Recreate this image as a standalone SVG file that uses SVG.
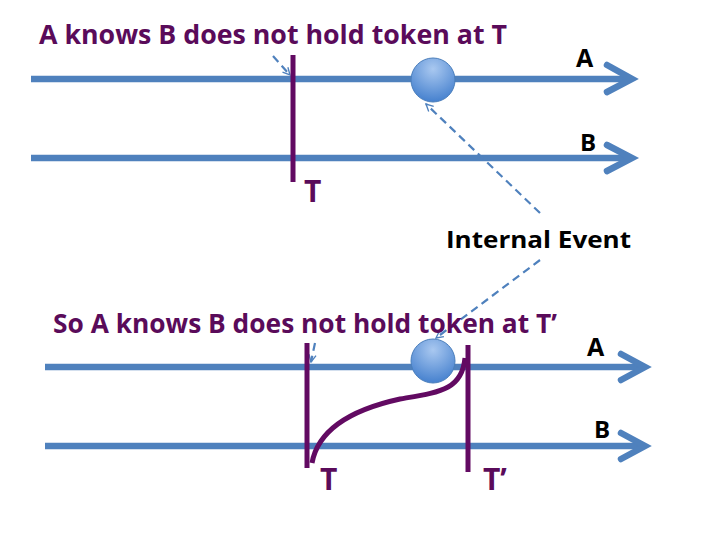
<svg xmlns="http://www.w3.org/2000/svg" width="720" height="540" viewBox="0 0 720 540">
<style>
.tl{fill:none;stroke:#4f81bd;stroke-width:6.5;stroke-linecap:butt}
.ah{fill:none;stroke:#4f81bd;stroke-width:6.5;stroke-linecap:round;stroke-linejoin:miter}
.pv{stroke:#620a62;stroke-width:5;fill:none}
.ds{fill:none;stroke:#4f81bd;stroke-width:2.2;stroke-dasharray:8,5}
.title{font-family:"Open Sans","Liberation Sans",sans-serif;font-weight:bold;fill:#5a0b5a;font-size:27px}
.lbl{font-family:"Open Sans","Liberation Sans",sans-serif;font-weight:bold;fill:#000}
.tt{font-family:"Open Sans","Liberation Sans",sans-serif;font-weight:bold;fill:#5a0b5a;font-size:30px}
</style>
<defs>
<radialGradient id="ball" cx="50%" cy="25%" r="80%">
<stop offset="0" stop-color="#a9c8f0"/>
<stop offset="1" stop-color="#3f7ccc"/>
</radialGradient>
<marker id="dh2" viewBox="0 0 10 10" refX="9" refY="5" markerWidth="9" markerHeight="9" orient="auto" markerUnits="userSpaceOnUse">
<path d="M1,1 L9,5 L1,9" fill="none" stroke="#4f81bd" stroke-width="1.5"/>
</marker>
</defs>

<g id="connectors">
<line class="tl" x1="31" y1="79" x2="629" y2="79"/>
<polyline class="ah" points="607,65 632,79 607,92"/>
<line class="tl" x1="31" y1="158" x2="629" y2="158"/>
<polyline class="ah" points="607,145 632,158 607,171"/>
<line class="tl" x1="45" y1="367" x2="642" y2="367"/>
<polyline class="ah" points="621,354 645,367 621,380"/>
<line class="tl" x1="45" y1="446" x2="642" y2="446"/>
<polyline class="ah" points="621,433 645,446 621,459"/>
<line class="ds" x1="273" y1="56" x2="290" y2="75" marker-end="url(#dh2)"/>
<line class="ds" x1="540" y1="213" x2="426" y2="104" marker-end="url(#dh2)"/>
<line class="ds" x1="540" y1="260" x2="436" y2="338" marker-end="url(#dh2)"/>
<line class="ds" x1="315" y1="343" x2="311" y2="362" marker-end="url(#dh2)"/>
<path class="pv" d="M312,463 C318,430 350,410 400,399 C440,392 462,390 465,358" stroke-width="5.5"/>
</g>

<g id="cut-top">
<line class="pv" x1="293" y1="55" x2="293" y2="182"/>
<text class="tt" x="304" y="202">T</text>
</g>
<g id="cut-T">
<line class="pv" x1="307" y1="343" x2="307" y2="468"/>
<text class="tt" x="320" y="490">T</text>
</g>
<g id="cut-T2">
<line class="pv" x1="468" y1="345" x2="468" y2="472"/>
<text class="tt" x="483" y="490">T’</text>
</g>

<g id="event-top">
<circle cx="433" cy="80" r="22" fill="url(#ball)" stroke="#4a7ebb" stroke-width="1"/>
</g>
<g id="event-bottom">
<circle cx="433" cy="361" r="22" fill="url(#ball)" stroke="#4a7ebb" stroke-width="1"/>
</g>

<g id="labels">
<text class="title" x="39" y="44" textLength="468" lengthAdjust="spacingAndGlyphs">A knows B does not hold token at T</text>
<text class="title" x="53" y="333" textLength="504" lengthAdjust="spacingAndGlyphs">So A knows B does not hold token at T’</text>
<text class="lbl" x="576" y="67" font-size="25">A</text>
<text class="lbl" x="580" y="151" font-size="24">B</text>
<text class="lbl" x="587" y="356" font-size="25">A</text>
<text class="lbl" x="594" y="438" font-size="24">B</text>
<text class="lbl" x="446" y="248" font-size="24" textLength="185" lengthAdjust="spacingAndGlyphs">Internal Event</text>
</g>
</svg>
